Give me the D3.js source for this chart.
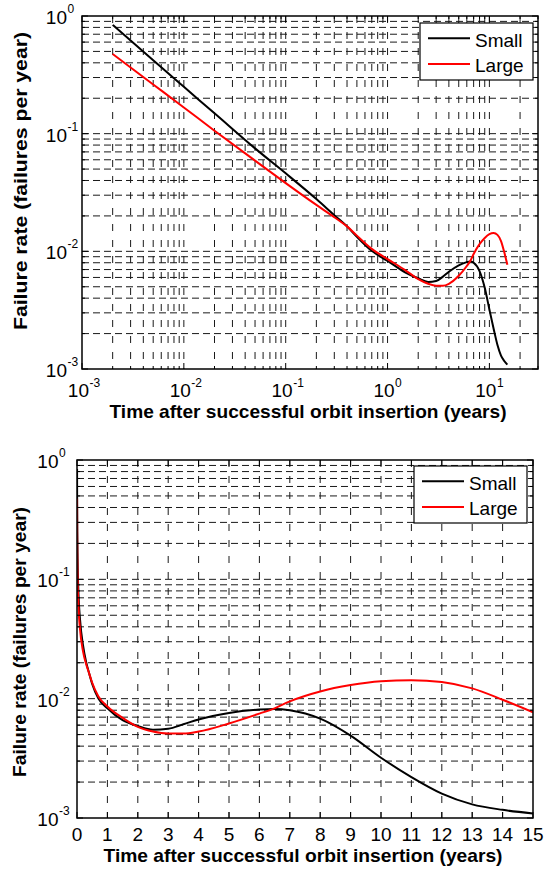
<!DOCTYPE html>
<html>
<head>
<meta charset="utf-8">
<script src="https://cdn.jsdelivr.net/npm/d3@7"></script>
<style>
  html, body { margin: 0; padding: 0; background: #fff; }
  svg { display: block; }
  text { font-family: "Liberation Sans", Arial, Helvetica, sans-serif; fill: #000; }
</style>
</head>
<body>
<svg id="chart" width="555" height="873"></svg>
<script>
// Time after orbit insertion (years)
const times = [0.002, 0.005, 0.01, 0.02, 0.05, 0.1, 0.2, 0.3, 0.4, 0.5, 0.7, 1, 1.5, 2, 2.5, 3, 3.5, 4, 5, 6, 6.5, 7, 8, 9, 10, 11, 12, 13, 14, 15];
// Failure rate (failures per year), small satellites
const smallRate = [0.84, 0.42, 0.25, 0.149, 0.075, 0.046, 0.0278, 0.0203, 0.0163, 0.0133, 0.0101, 0.0083, 0.0066, 0.0059, 0.0055, 0.0056, 0.0061, 0.0067, 0.0076, 0.0081, 0.0082, 0.0080, 0.0068, 0.0049, 0.0032, 0.0022, 0.0016, 0.0013, 0.00117, 0.00109];
// Failure rate (failures per year), large satellites
const largeRate = [0.475, 0.262, 0.167, 0.106, 0.059, 0.038, 0.0248, 0.0195, 0.0163, 0.0136, 0.0105, 0.0086, 0.0069, 0.0058, 0.0053, 0.0051, 0.0051, 0.0053, 0.0062, 0.0075, 0.0083, 0.0095, 0.0115, 0.0130, 0.0140, 0.0143, 0.0138, 0.0122, 0.0098, 0.0077];

const seriesNames = ["Small", "Large"];
const seriesColors = ["#000000", "#ff0000"];

// Tick labels
const logXTickExps = [-3, -2, -1, 0, 1];
const logYTickExps = [0, -1, -2, -3];
const linXTicks = [0, 1, 2, 3, 4, 5, 6, 7, 8, 9, 10, 11, 12, 13, 14, 15];

const xLabel = "Time after successful orbit insertion (years)";
const yLabel = "Failure rate (failures per year)";

const svg = d3.select("#chart");
svg.append("rect").attr("width", 555).attr("height", 873).attr("fill", "#fff");

const series = [smallRate, largeRate].map((vals, i) => ({
  name: seriesNames[i], color: seriesColors[i],
  points: times.map((t, j) => ({ t, v: vals[j] }))
}));

function drawPanel(cfg) {
  const { left, right, top, bottom, x, xMajor, xMinor, xLabelFn, yLabelOff, xLabelLen, yLabelLen, yLabelX, yLabelY, legend } = cfg;
  const y = d3.scaleLog().domain([1e-3, 1]).range([bottom, top]);
  const g = svg.append("g");

  const allY = y.ticks();
  const yMajor = logYTickExps.map(e => Math.pow(10, e));
  const isYMajor = v => yMajor.some(m => Math.abs(m - v) / m < 1e-9);

  // dashed grid
  const grid = g.append("g").attr("stroke", "#1a1a1a").attr("stroke-width", 1).attr("fill", "none");
  grid.selectAll("line.gx").data(xMinor.concat(xMajor).filter(v => x(v) > left + 0.5 && x(v) < right - 0.5))
    .join("line").attr("class", "gx")
    .attr("x1", d => x(d)).attr("x2", d => x(d)).attr("y1", top).attr("y2", bottom)
    .attr("stroke-dasharray", "7,9");
  grid.selectAll("line.gy").data(allY.filter(v => y(v) > top + 0.5 && y(v) < bottom - 0.5))
    .join("line").attr("class", "gy")
    .attr("y1", d => y(d)).attr("y2", d => y(d)).attr("x1", left).attr("x2", right)
    .attr("stroke-dasharray", "7,4");

  // curves
  const line = d3.line().x(d => x(d.t)).y(d => y(d.v)).curve(d3.curveMonotoneX);
  const clipId = "clip" + top;
  svg.append("clipPath").attr("id", clipId).append("rect")
    .attr("x", left).attr("y", top).attr("width", right - left).attr("height", bottom - top);
  g.append("g").attr("clip-path", `url(#${clipId})`)
    .selectAll("path").data(series).join("path")
    .attr("d", d => line(d.points)).attr("fill", "none")
    .attr("stroke", d => d.color).attr("stroke-width", 2).attr("stroke-linejoin", "round");

  // inner ticks on all four sides
  const ticks = g.append("g").attr("stroke", "#000").attr("stroke-width", 1);
  const xTicks = xMajor.map(v => ({ v, len: 6 })).concat(xMinor.map(v => ({ v, len: 3 })));
  xTicks.forEach(d => {
    ticks.append("line").attr("x1", x(d.v)).attr("x2", x(d.v)).attr("y1", bottom).attr("y2", bottom - d.len);
    ticks.append("line").attr("x1", x(d.v)).attr("x2", x(d.v)).attr("y1", top).attr("y2", top + d.len);
  });
  allY.forEach(v => {
    const len = isYMajor(v) ? 6 : 3;
    ticks.append("line").attr("y1", y(v)).attr("y2", y(v)).attr("x1", left).attr("x2", left + len);
    ticks.append("line").attr("y1", y(v)).attr("y2", y(v)).attr("x1", right).attr("x2", right - len);
  });

  // frame
  g.append("rect").attr("x", left).attr("y", top).attr("width", right - left).attr("height", bottom - top)
    .attr("fill", "none").attr("stroke", "#000").attr("stroke-width", 1.5);

  // y tick labels 10^n
  logYTickExps.forEach(e => {
    const yy = y(Math.pow(10, e));
    g.append("text").attr("x", left - yLabelOff).attr("y", yy + 8)
      .attr("text-anchor", "end").attr("font-size", 19).text("10");
    g.append("text").attr("x", left - yLabelOff + 0.5).attr("y", yy - 3)
      .attr("font-size", 12).text(String(e));
  });

  // x tick labels
  xLabelFn(g, x, bottom);

  // axis titles
  g.append("text").attr("x", (left + right) / 2 - 2).attr("y", bottom + (cfg.xTitleDy))
    .attr("text-anchor", "middle").attr("font-size", 19).attr("font-weight", "bold")
    .attr("textLength", xLabelLen).attr("lengthAdjust", "spacingAndGlyphs").text(xLabel);
  g.append("text").attr("transform", `translate(${yLabelX},${yLabelY}) rotate(-90)`)
    .attr("text-anchor", "middle").attr("font-size", 19).attr("font-weight", "bold")
    .attr("textLength", yLabelLen).attr("lengthAdjust", "spacingAndGlyphs").text(yLabel);

  // legend
  const lg = g.append("g").attr("transform", `translate(${legend.x},${legend.y})`);
  lg.append("rect").attr("width", 113).attr("height", 57).attr("fill", "#fff")
    .attr("stroke", "#000").attr("stroke-width", 1.2);
  series.forEach((s, i) => {
    const ly = 15.3 + i * 25.7;
    lg.append("line").attr("x1", 8).attr("x2", 50).attr("y1", ly).attr("y2", ly)
      .attr("stroke", s.color).attr("stroke-width", 2);
    lg.append("text").attr("x", 55).attr("y", ly + 8.4).attr("font-size", 19).text(s.name);
  });
}

// Upper panel: log-log
const xLog = d3.scaleLog().domain([1e-3, 30]).range([82, 538]);
const logAll = xLog.ticks();
const logMajor = logXTickExps.map(e => Math.pow(10, e));
const logMinor = logAll.filter(v => !logMajor.some(m => Math.abs(m - v) / m < 1e-9));
drawPanel({
  left: 82, right: 538, top: 16, bottom: 369, x: xLog,
  xMajor: logMajor, xMinor: logMinor,
  yLabelOff: 15, xLabelLen: 397, yLabelLen: 298, yLabelX: 27, yLabelY: 181,
  xTitleDy: 49,
  legend: { x: 420, y: 23 },
  xLabelFn: (g, x, bottom) => {
    logXTickExps.forEach(e => {
      const xx = x(Math.pow(10, e));
      g.append("text").attr("x", xx + 7).attr("y", bottom + 28)
        .attr("text-anchor", "end").attr("font-size", 19).text("10");
      g.append("text").attr("x", xx + 7.5).attr("y", bottom + 18)
        .attr("font-size", 12).text(String(e));
    });
  }
});

// Lower panel: linear time, log rate
const xLin = d3.scaleLinear().domain([0, 15]).range([77, 533]);
drawPanel({
  left: 77, right: 533, top: 460, bottom: 818, x: xLin,
  xMajor: linXTicks, xMinor: [],
  yLabelOff: 18.5, xLabelLen: 399, yLabelLen: 270, yLabelX: 26, yLabelY: 642,
  xTitleDy: 44,
  legend: { x: 414, y: 466 },
  xLabelFn: (g, x, bottom) => {
    g.selectAll("text.xt").data(linXTicks).join("text").attr("class", "xt")
      .attr("x", d => x(d)).attr("y", bottom + 23)
      .attr("text-anchor", "middle").attr("font-size", 19).text(d => d);
  }
});
</script>
</body>
</html>
